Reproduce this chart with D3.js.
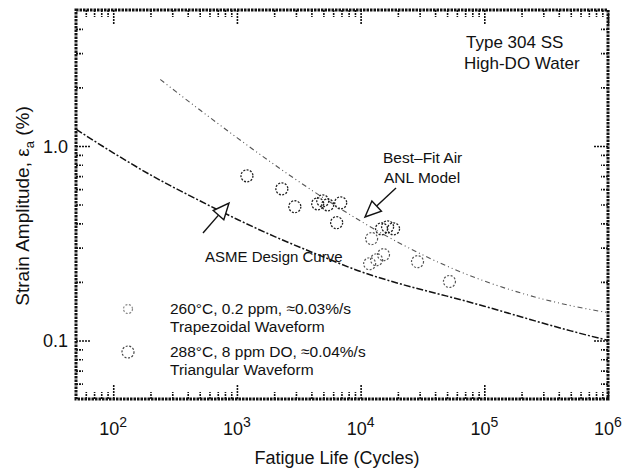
<!DOCTYPE html>
<html><head><meta charset="utf-8">
<script src="https://cdn.jsdelivr.net/npm/d3@7"></script>
<style>
body{margin:0;background:#fff}
text{font-family:"Liberation Sans",Arial,Helvetica,sans-serif;fill:#111}
</style>
</head><body>
<svg id="c" width="628" height="470"></svg>
<script>
// ---- data ----
const xMajorTicks = [100, 1000, 10000, 100000, 1000000];
const xMajorExp = ["2", "3", "4", "5", "6"];
const yMajorTicks = [0.1, 1.0];
const yMajorLabels = ["0.1", "1.0"];

// ASME design curve (strain amplitude %, vs cycles)
const asmeN = [50, 100, 200, 500, 1000, 2000, 5000, 10000, 20000, 50000, 100000, 200000, 500000, 1000000];
const asmeE = [1.219, 0.922, 0.710, 0.523, 0.420, 0.343, 0.269, 0.226, 0.197, 0.169, 0.150, 0.132, 0.112, 0.100];

// Best-fit air ANL model
const airN = [240, 500, 1000, 2000, 5000, 10000, 20000, 50000, 100000, 200000, 500000, 1000000];
const airE = [2.197, 1.534, 1.103, 0.803, 0.541, 0.411, 0.320, 0.241, 0.202, 0.175, 0.151, 0.139];

// 260°C, 0.2 ppm
const s1N = [12270, 11830, 13460, 15310, 28840, 52260];
const s1E = [0.334, 0.248, 0.260, 0.276, 0.254, 0.201];
// 288°C, 8 ppm DO
const s2N = [1205, 2307, 2938, 4498, 4940, 5420, 6900, 6400, 14760, 16520, 18460];
const s2E = [0.702, 0.602, 0.487, 0.504, 0.522, 0.498, 0.510, 0.403, 0.375, 0.384, 0.375];

const legendLine1 = ["260°C, 0.2 ppm, ≈0.03%/s", "288°C, 8 ppm DO, ≈0.04%/s"];
const legendLine2 = ["Trapezoidal Waveform", "Triangular Waveform"];

// ---- drawing ----
const INK = "#121212";
const svg = d3.select("#c");
svg.append("rect").attr("width", 628).attr("height", 470).attr("fill", "#fff");
const L = 76, R = 608, T = 10, B = 399;
const x = d3.scaleLog().domain([50, 1e6]).range([L, R]);
const y = d3.scaleLog().domain([0.05, 5]).range([B, T]);

// curves
const asmeLine = d3.line().x((d, i) => x(asmeN[i])).y((d, i) => y(asmeE[i])).curve(d3.curveMonotoneX);
svg.append("path").attr("d", asmeLine(asmeN)).attr("fill", "none").attr("stroke", INK)
  .attr("stroke-width", 1.5).attr("stroke-dasharray", "7,2,2,2");
const airLine = d3.line().x((d, i) => x(airN[i])).y((d, i) => y(airE[i])).curve(d3.curveMonotoneX);
svg.append("path").attr("d", airLine(airN)).attr("fill", "none").attr("stroke", "#555")
  .attr("stroke-width", 1.1).attr("stroke-dasharray", "5,3,1,3,1,3");

// axes: ticks inward on all four sides, drawn with d3 axes
const xMinor = x.ticks().filter(v => !xMajorTicks.includes(v) && v > 50);
const yMinor = y.ticks().filter(v => !yMajorTicks.some(t => Math.abs(t - v) < 1e-9) && v > 0.05 && v < 5);
function tickStyle(g){
  g.select(".domain").remove();
  g.selectAll(".tick text").remove();
  g.selectAll(".tick line").attr("stroke", INK).attr("stroke-width", 1.6).attr("stroke-dasharray", "2,1");
}
const MAJ = 15, MIN = 7;
const axes = svg.append("g");
[[d3.axisBottom, B], [d3.axisTop, T]].forEach(([fn, pos]) => {
  axes.append("g").attr("transform", `translate(0,${pos})`).call(fn(x).tickValues(xMinor).tickSizeInner(-MIN).tickSizeOuter(0)).call(tickStyle);
  axes.append("g").attr("transform", `translate(0,${pos})`).call(fn(x).tickValues(xMajorTicks).tickSizeInner(-MAJ).tickSizeOuter(0)).call(tickStyle);
});
[[d3.axisLeft, L], [d3.axisRight, R]].forEach(([fn, pos]) => {
  axes.append("g").attr("transform", `translate(${pos},0)`).call(fn(y).tickValues(yMinor).tickSizeInner(-MIN).tickSizeOuter(0)).call(tickStyle);
  axes.append("g").attr("transform", `translate(${pos},0)`).call(fn(y).tickValues(yMajorTicks).tickSizeInner(-MAJ).tickSizeOuter(0)).call(tickStyle);
});

// frame
svg.append("rect").attr("x", L).attr("y", T).attr("width", R - L).attr("height", B - T)
  .attr("fill", "none").attr("stroke", INK).attr("stroke-width", 3).attr("stroke-dasharray", "2.5,1");

// tick labels
const xl = svg.append("g").selectAll("text").data(xMajorTicks).join("text")
  .attr("x", d => x(d)).attr("y", 435).attr("text-anchor", "middle").attr("font-size", 18);
xl.append("tspan").text("10");
xl.append("tspan").attr("dy", -8).attr("font-size", 14).text((d, i) => xMajorExp[i]);

svg.append("g").selectAll("text").data(yMajorTicks).join("text")
  .attr("x", 68).attr("y", d => y(d) + 7).attr("text-anchor", "end").attr("font-size", 18)
  .text((d, i) => yMajorLabels[i]);

// axis titles
svg.append("text").attr("x", 337).attr("y", 464).attr("text-anchor", "middle").attr("font-size", 18)
  .text("Fatigue Life (Cycles)");
const yt = svg.append("text").attr("transform", "translate(29,206) rotate(-90)").attr("text-anchor", "middle").attr("font-size", 19);
yt.append("tspan").text("Strain Amplitude,  ε");
yt.append("tspan").attr("dy", 5).attr("font-size", 13).text("a");
yt.append("tspan").attr("dy", -5).text(" (%)");

// data points
svg.append("g").selectAll("circle").data(s1N).join("circle")
  .attr("cx", d => x(d)).attr("cy", (d, i) => y(s1E[i])).attr("r", 6)
  .attr("fill", "none").attr("stroke", "#555").attr("stroke-width", 1.2).attr("stroke-dasharray", "2,1.6");
svg.append("g").selectAll("circle").data(s2N).join("circle")
  .attr("cx", d => x(d)).attr("cy", (d, i) => y(s2E[i])).attr("r", 6)
  .attr("fill", "none").attr("stroke", "#222").attr("stroke-width", 1.3).attr("stroke-dasharray", "2,1.4");

// annotation texts
svg.append("text").attr("x", 466).attr("y", 48).attr("font-size", 17).text("Type 304 SS");
svg.append("text").attr("x", 464).attr("y", 69).attr("font-size", 17).text("High-DO Water");
svg.append("text").attr("x", 383).attr("y", 163).attr("font-size", 15.5).text("Best–Fit Air");
svg.append("text").attr("x", 384).attr("y", 183).attr("font-size", 15.5).text("ANL Model");
svg.append("text").attr("x", 205).attr("y", 262).attr("font-size", 15).text("ASME Design  Curve");

function arrow(x1, y1, x2, y2){
  const a = Math.atan2(y2 - y1, x2 - x1), len = 16, w = 7;
  const bx = x2 - len * Math.cos(a), by = y2 - len * Math.sin(a);
  const px = -Math.sin(a) * w, py = Math.cos(a) * w;
  svg.append("line").attr("x1", x1).attr("y1", y1).attr("x2", bx).attr("y2", by)
    .attr("stroke", INK).attr("stroke-width", 1.4);
  svg.append("path").attr("d", `M${x2},${y2}L${bx+px},${by+py}L${bx-px},${by-py}Z`)
    .attr("fill", "#fff").attr("stroke", INK).attr("stroke-width", 1.4);
}
arrow(396, 188, 365, 217);
arrow(203, 233, 229, 203);

// legend
const legY = [309, 352];
const legR = [4.5, 6];
const legC = ["#888", "#444"];
legY.forEach((ly, i) => {
  svg.append("circle").attr("cx", 128).attr("cy", ly).attr("r", legR[i]).attr("fill", "none")
    .attr("stroke", legC[i]).attr("stroke-width", 1.2).attr("stroke-dasharray", "2,1.6");
  svg.append("text").attr("x", 170).attr("y", ly + 5).attr("font-size", 15.5).text(legendLine1[i]);
  svg.append("text").attr("x", 170).attr("y", ly + 23).attr("font-size", 15.5).text(legendLine2[i]);
});
</script>
</body></html>
